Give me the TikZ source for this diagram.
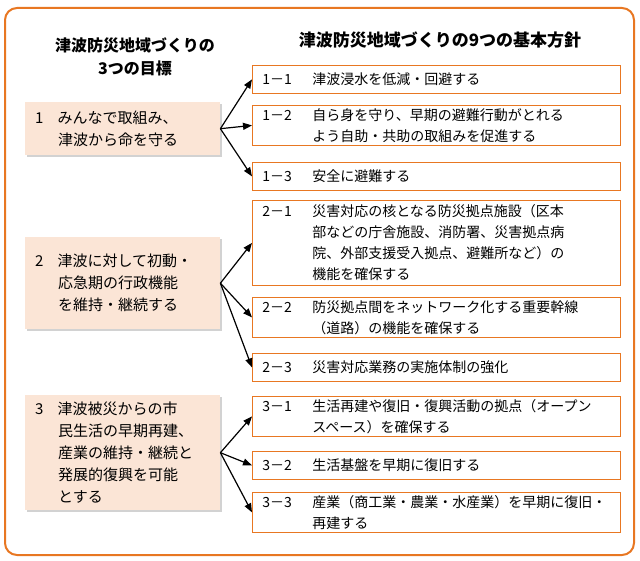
\documentclass[tikz,border=0pt]{standalone}
\usepackage{fontspec}
\setmainfont{Noto Sans CJK JP}
\usetikzlibrary{shadows,arrows.meta}
\definecolor{frameorange}{HTML}{E87722}
\definecolor{goalfill}{HTML}{FBE5D6}
\tikzset{
  goal/.style={draw=none,fill=goalfill,anchor=north west,text width=195pt,inner sep=0pt,
    align=left,font=\fontsize{15}{22}\selectfont,drop shadow={shadow xshift=2pt,shadow yshift=-2pt,fill=black!35}},
  policy/.style={draw=frameorange,thick,fill=white,anchor=north west,text width=368pt,inner sep=0pt,
    align=left,font=\fontsize{14}{21}\selectfont},
  link/.style={-{Triangle[length=9pt,width=7pt]},line width=1.2pt}
}
\newcommand{\pno}[1]{\makebox[50pt][l]{#1}}
\newcommand{\pind}{\hspace*{50pt}}
\begin{document}
\begin{tikzpicture}[x=1pt,y=-1pt]
  \useasboundingbox (0,0) rectangle (640,561);
  \draw[frameorange,line width=2pt,rounded corners=12pt] (5,8) rectangle (634,555);

  % headings
  \node[font=\fontsize{16}{23}\selectfont\bfseries,align=center] (lhead) at (135,57) {津波防災地域づくりの\\3つの目標};
  \node[font=\fontsize{17}{23}\selectfont\bfseries] (rhead) at (440,40) {津波防災地域づくりの9つの基本方針};

  % goals
  \node[goal,minimum height=53pt] (g1) at (25,102) {\hspace*{10pt}1\hspace{14pt}みんなで取組み、\\\hspace*{33pt}津波から命を守る};
  \node[goal,minimum height=92pt] (g2) at (25,237) {\hspace*{10pt}2\hspace{14pt}津波に対して初動・\\\hspace*{33pt}応急期の行政機能\\\hspace*{33pt}を維持・継続する};
  \node[goal,minimum height=115pt] (g3) at (25,395) {\hspace*{10pt}3\hspace{14pt}津波被災からの市\\\hspace*{33pt}民生活の早期再建、\\\hspace*{33pt}産業の維持・継続と\\\hspace*{33pt}発展的復興を可能\\\hspace*{33pt}とする};

  % policies
  \node[policy,minimum height=28pt] (p11) at (252,65) {\hspace*{10pt}\pno{1－1}津波浸水を低減・回避する};
  \node[policy,minimum height=40pt] (p12) at (252,105) {\hspace*{10pt}\pno{1－2}自ら身を守り、早期の避難行動がとれる\\\hspace*{10pt}\pind よう自助・共助の取組みを促進する};
  \node[policy,minimum height=28pt] (p13) at (252,162) {\hspace*{10pt}\pno{1－3}安全に避難する};
  \node[policy,minimum height=85pt] (p21) at (252,200) {\hspace*{10pt}\pno{2－1}災害対応の核となる防災拠点施設（区本\\\hspace*{10pt}\pind 部などの庁舎施設、消防署、災害拠点病\\\hspace*{10pt}\pind 院、外部支援受入拠点、避難所など）の\\\hspace*{10pt}\pind 機能を確保する};
  \node[policy,minimum height=40pt] (p22) at (252,297) {\hspace*{10pt}\pno{2－2}防災拠点間をネットワーク化する重要幹線\\\hspace*{10pt}\pind （道路）の機能を確保する};
  \node[policy,minimum height=28pt] (p23) at (252,353) {\hspace*{10pt}\pno{2－3}災害対応業務の実施体制の強化};
  \node[policy,minimum height=40pt] (p31) at (252,396) {\hspace*{10pt}\pno{3－1}生活再建や復旧・復興活動の拠点（オープン\\\hspace*{10pt}\pind スペース）を確保する};
  \node[policy,minimum height=28pt] (p32) at (252,451) {\hspace*{10pt}\pno{3－2}生活基盤を早期に復旧する};
  \node[policy,minimum height=40pt] (p33) at (252,492) {\hspace*{10pt}\pno{3－3}産業（商工業・農業・水産業）を早期に復旧・\\\hspace*{10pt}\pind 再建する};

  % links
  \foreach \g/\p in {g1/p11,g1/p12,g1/p13,g2/p21,g2/p22,g2/p23,g3/p31,g3/p32,g3/p33}
    \draw[link] (\g.east) -- (\p.west);
\end{tikzpicture}
\end{document}
